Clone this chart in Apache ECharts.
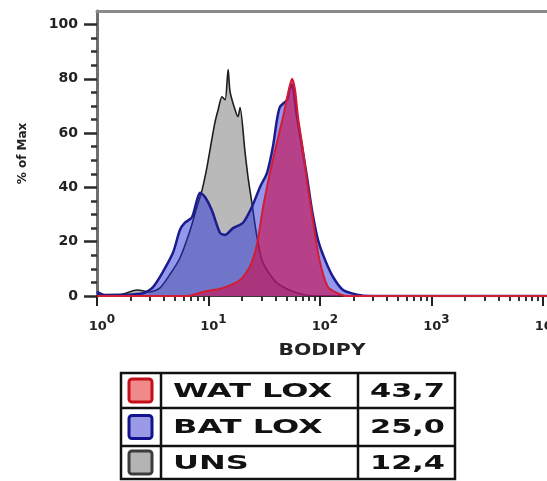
<!DOCTYPE html>
<html>
<head>
<meta charset="utf-8">
<script src="https://cdn.jsdelivr.net/npm/echarts@6/dist/echarts.min.js"></script>
<style>html,body{margin:0;padding:0;background:#fff}#c{width:547px;height:481px}</style>
</head>
<body>
<div id="c"></div>
<script>
// ---- data (x = BODIPY intensity, y = % of Max) ----
const seriesNames = ['WAT LOX', 'BAT LOX', 'UNS'];
const legendValues = ['43,7', '25,0', '12,4'];

const unsX = [1, 1.61, 2.29, 2.99, 3.67, 4.52, 5.55, 6.82, 7.9, 8.75, 9.7, 10.7, 11.4, 12.2, 13.2, 14.1, 15.0, 15.6, 17.3, 18.4, 19.2, 21.2, 22.6, 24.5, 27.2, 30.8, 41.1, 62.2, 94.0, 10860];
const unsY = [0.5, 0.5, 2.2, 1.5, 3, 8, 14, 24, 33, 39, 47.6, 57.6, 63.8, 68.6, 73.4, 72.3, 83.4, 75.3, 68.6, 66.1, 69.4, 53.5, 43.9, 34.3, 21.8, 12.2, 4.8, 1.1, 0, 0];

const batX = [1, 1.18, 2.59, 3.18, 3.91, 4.81, 5.55, 6.15, 7.11, 7.89, 8.39, 9.31, 10.7, 12.7, 14.1, 16.6, 20.4, 24.5, 29.0, 33.5, 37.8, 41.1, 43.8, 50.6, 53.8, 56.1, 62.2, 69.0, 76.4, 84.7, 95.9, 111, 131, 161, 215, 282, 10860];
const batY = [1.5, 0.3, 1, 3.3, 9, 16, 24.4, 27, 29, 35.4, 38, 36.5, 31.7, 23.2, 22.5, 25, 27, 32.8, 40.2, 45.4, 55, 64.9, 69.7, 72.3, 76.8, 77.9, 66, 55, 43.9, 31.7, 20.7, 13.3, 7, 2.2, 0.5, 0, 0];

const watX = [1, 4.52, 6.41, 8.93, 13.5, 19.2, 23.6, 27.2, 30.8, 35.6, 41.1, 46.6, 51.6, 56.1, 59.7, 63.5, 70.5, 76.4, 84.7, 94.0, 104, 118, 142, 175, 10860];
const watY = [0, 0, 0, 1.5, 3, 5.9, 11, 19, 32.5, 45.4, 56.5, 66, 74.5, 80, 76, 66, 53.5, 42.4, 30.3, 18, 9.6, 3.3, 1.1, 0, 0];

const xMajorTicks = [1, 10, 100, 1000, 10000];
const xTickExponents = ['0', '1', '2', '3', '4'];
const xMinorTicks = [2, 3, 4, 5, 6, 7, 8, 9, 20, 30, 40, 50, 60, 70, 80, 90, 200, 300, 400, 500, 600, 700, 800, 900, 2000, 3000, 4000, 5000, 6000, 7000, 8000, 9000];
const yMajorTicks = [0, 20, 40, 60, 80, 100];
const yMinorTicks = [5, 10, 15, 25, 30, 35, 45, 50, 55, 65, 70, 75, 85, 90, 95];

const xMin = 1, xMax = 10860, yMin = 0, yMax = 105;

function pairs(xs, ys) { return xs.map((x, i) => [x, ys[i]]); }

const chart = echarts.init(document.getElementById('c'), null, { renderer: 'canvas' });

const FONT = 'DejaVu Sans';

const lineColors = ['#d41c32', '#1c1c8e', '#1e1e1e'];
const areaColors = ['rgba(200,20,85,0.66)', 'rgba(40,50,220,0.5)', '#b9b9b9'];
const swatchFill = ['#f08a8a', '#9a9ae6', '#b4b4b4'];
const swatchStroke = ['#c40f1a', '#14148e', '#3c3c3c'];

// legend table
const tbl = { left: 121, right: 455, top: 373, bottom: 479, col1: 161, col2: 358, rows: [373, 408, 446, 479] };
const graphic = [];
graphic.push({ type: 'rect', shape: { x: tbl.left, y: tbl.top, width: tbl.right - tbl.left, height: tbl.bottom - tbl.top }, style: { fill: '#fff', stroke: '#111', lineWidth: 2.5 } });
graphic.push({ type: 'line', shape: { x1: tbl.col1, y1: tbl.top, x2: tbl.col1, y2: tbl.bottom }, style: { stroke: '#111', lineWidth: 2.5 } });
graphic.push({ type: 'line', shape: { x1: tbl.col2, y1: tbl.top, x2: tbl.col2, y2: tbl.bottom }, style: { stroke: '#111', lineWidth: 2.5 } });
graphic.push({ type: 'line', shape: { x1: tbl.left, y1: tbl.rows[1], x2: tbl.right, y2: tbl.rows[1] }, style: { stroke: '#111', lineWidth: 2.5 } });
graphic.push({ type: 'line', shape: { x1: tbl.left, y1: tbl.rows[2], x2: tbl.right, y2: tbl.rows[2] }, style: { stroke: '#111', lineWidth: 2.5 } });
seriesNames.forEach((name, i) => {
  const cy = (tbl.rows[i] + tbl.rows[i + 1]) / 2;
  graphic.push({ type: 'rect', shape: { x: 129, y: cy - 11.5, width: 23, height: 23, r: 3 }, style: { fill: swatchFill[i], stroke: swatchStroke[i], lineWidth: 3 } });
  graphic.push({ type: 'text', x: 173, y: cy + 1, scaleX: 1.6, style: { text: name, font: 'bold 20px "' + FONT + '"', fill: '#111', align: 'left', verticalAlign: 'middle' } });
  graphic.push({ type: 'text', x: 445, y: cy + 1, scaleX: 1.52, style: { text: legendValues[i], font: 'bold 20px "' + FONT + '"', fill: '#111', align: 'right', verticalAlign: 'middle' } });
});
// x axis title
graphic.push({ type: 'text', x: 322, y: 351, scaleX: 1.36, style: { text: 'BODIPY', font: 'bold 15px "' + FONT + '"', fill: '#222', align: 'center', verticalAlign: 'middle' } });

const option = {
  animation: false,
  backgroundColor: '#fff',
  grid: { left: 97, right: 0, top: 11, bottom: 185, containLabel: false, outerBoundsMode: 'none' },
  xAxis: [
    {
      type: 'log', min: xMin, max: xMax, position: 'bottom',
      axisLine: { show: true, onZero: false, lineStyle: { color: '#3a3a3a', width: 2 } },
      axisTick: { show: true, customValues: xMajorTicks, length: 10, lineStyle: { color: '#222', width: 2 } },
      axisLabel: {
        show: true, customValues: xMajorTicks, margin: 18, hideOverlap: false,
        formatter: function (v) {
          const idx = xMajorTicks.indexOf(v);
          return idx < 0 ? '' : '{p|}{b|10}{s|' + xTickExponents[idx] + '}';
        },
        rich: {
          p: { width: 10, lineHeight: 19 },
          b: { fontFamily: FONT, fontWeight: 'bold', fontSize: 13, color: '#222', lineHeight: 19, verticalAlign: 'bottom' },
          s: { fontFamily: FONT, fontWeight: 'bold', fontSize: 12, color: '#222', lineHeight: 19, verticalAlign: 'top' }
        }
      },
      splitLine: { show: false }
    },
    {
      type: 'log', min: xMin, max: xMax, position: 'bottom',
      axisLine: { show: false },
      axisTick: { show: true, customValues: xMinorTicks, length: 5, lineStyle: { color: '#333', width: 2 } },
      axisLabel: { show: false },
      splitLine: { show: false }
    },
    {
      type: 'log', min: xMin, max: xMax, position: 'top',
      axisLine: { show: true, onZero: false, lineStyle: { color: '#8a8a8a', width: 3 } },
      axisTick: { show: false }, axisLabel: { show: false }, splitLine: { show: false }
    }
  ],
  yAxis: [
    {
      type: 'value', min: yMin, max: yMax, position: 'left',
      name: '% of Max', nameLocation: 'middle', nameGap: 68,
      nameTextStyle: { fontFamily: FONT, fontWeight: 'bold', fontSize: 12, color: '#222' },
      axisLine: { show: true, onZero: false, lineStyle: { color: '#6e6e6e', width: 3 } },
      axisTick: { show: true, customValues: yMajorTicks, length: 13, lineStyle: { color: '#2a2a2a', width: 2.5 } },
      axisLabel: { show: true, customValues: yMajorTicks, margin: 19, fontFamily: FONT, fontWeight: 'bold', fontSize: 14, color: '#222' },
      splitLine: { show: false }
    },
    {
      type: 'value', min: yMin, max: yMax, position: 'left',
      axisLine: { show: false },
      axisTick: { show: true, customValues: yMinorTicks, length: 6, lineStyle: { color: '#333', width: 2.5 } },
      axisLabel: { show: false }, splitLine: { show: false }
    }
  ],
  series: [
    {
      name: seriesNames[2], type: 'line', xAxisIndex: 0, yAxisIndex: 0, data: pairs(unsX, unsY),
      symbol: 'none', smooth: 0.25, z: 2,
      lineStyle: { color: lineColors[2], width: 1.6 }, areaStyle: { color: areaColors[2], opacity: 1 }
    },
    {
      name: seriesNames[1], type: 'line', xAxisIndex: 0, yAxisIndex: 0, data: pairs(batX, batY),
      symbol: 'none', smooth: 0.25, z: 3,
      lineStyle: { color: lineColors[1], width: 2.5 }, areaStyle: { color: areaColors[1], opacity: 1 }
    },
    {
      name: seriesNames[0], type: 'line', xAxisIndex: 0, yAxisIndex: 0, data: pairs(watX, watY),
      symbol: 'none', smooth: 0.25, z: 4,
      lineStyle: { color: lineColors[0], width: 2 }, areaStyle: { color: areaColors[0], opacity: 1 }
    }
  ],
  graphic: graphic
};
chart.setOption(option);
</script>
</body>
</html>
